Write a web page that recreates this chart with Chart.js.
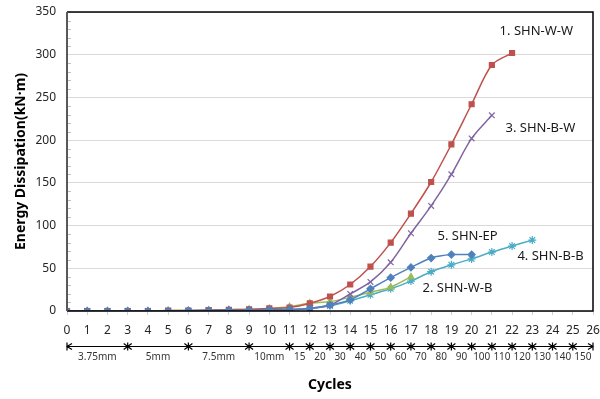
<!DOCTYPE html>
<html>
<head>
<meta charset="utf-8">
<script src="https://cdn.jsdelivr.net/npm/chart.js@4.4.0/dist/chart.umd.min.js"></script>
<style>
    html, body { margin: 0; padding: 0; background: #fff; }
    #wrap { width: 600px; height: 399px; position: relative; }
</style>
</head>
<body>
<div id="wrap"><canvas id="myChart"></canvas></div>
<script>

// values, index = cycle number
var shnWW = [0, 0, 0, 0, 0, 0.5, 0.5, 1, 1.5, 2, 3, 4, 9, 17, 31, 52, 80, 114, 151, 195, 242, 288, 302];
var shnWB = [0, 0, 0, 0, 0, 0.5, 0.5, 1, 1.5, 2, 3, 5, 9, 11, 16, 22, 28, 40];
var shnBW = [0, 0, 0, 0, 0, 0, 0, 0.5, 0.5, 1, 1, 1.5, 3, 7, 20, 34, 57, 91, 123, 160, 202, 229];
var shnBB = [0, 0, 0, 0, 0, 0, 0, 0.5, 0.5, 1, 1, 1.5, 3, 6, 12, 19, 26, 35, 46, 54, 61, 69, 76, 83];
var shnEP = [0, 0, 0, 0, 0, 0, 0.5, 0.5, 1, 1, 1.5, 2, 3, 7, 13, 26, 39, 51, 62, 66, 66];

var seriesNames = ["1. SHN-W-W", "2. SHN-W-B", "3. SHN-B-W", "4. SHN-B-B", "5. SHN-EP"];

// x ticks 0..26, y ticks 0..350
var xTicks = [0, 1, 2, 3, 4, 5, 6, 7, 8, 9, 10, 11, 12, 13, 14, 15, 16, 17, 18, 19, 20, 21, 22, 23, 24, 25, 26];
var yTicks = [0, 50, 100, 150, 200, 250, 300, 350];

// amplitude row under the cycle numbers
var stepBounds = [0, 3, 6, 9, 11, 12, 13, 14, 15, 16, 17, 18, 19, 20, 21, 22, 23, 24, 25, 26];
var stepLabels = ["3.75mm", "5mm", "7.5mm", "10mm", "15", "20", "30", "40", "50", "60", "70", "80", "90", "100", "110", "120", "130", "140", "150"];

// where the series names sit (cycle, value)
var labelX = [23.2, 19.3, 23.4, 23.9, 19.8];
var labelY = [327, 27, 214, 64, 87];

var FONT = "'Noto Sans', 'DejaVu Sans', sans-serif";

function toPoints(arr) {
    return arr.map(function (v, i) { return { x: i, y: v }; });
}

var extras = {
    id: "extras",
    afterDraw: function (chart) {
        var ctx = chart.ctx;
        var xs = chart.scales.x;
        var ys = chart.scales.y;
        var a = chart.chartArea;

        ctx.save();

        // frame
        ctx.strokeStyle = "#000";
        ctx.lineWidth = 1.5;
        ctx.beginPath();
        ctx.moveTo(a.left, a.top);
        ctx.lineTo(a.right, a.top);
        ctx.lineTo(a.right, a.bottom);
        ctx.lineTo(a.left, a.bottom);
        ctx.stroke();
        ctx.strokeStyle = "#595959";
        ctx.lineWidth = 2;
        ctx.beginPath();
        ctx.moveTo(a.left, a.top);
        ctx.lineTo(a.left, a.bottom);
        ctx.stroke();

        // minor ticks on y axis
        ctx.strokeStyle = "#bfbfbf";
        ctx.lineWidth = 1;
        for (var v = 10; v < 350; v += 10) {
            if (v % 50 === 0) continue;
            var py = Math.round(ys.getPixelForValue(v)) + 0.5;
            ctx.beginPath();
            ctx.moveTo(a.left + 1, py);
            ctx.lineTo(a.left + 4, py);
            ctx.stroke();
        }

        // series names
        ctx.fillStyle = "#1a1a1a";
        ctx.font = "13px " + FONT;
        ctx.textAlign = "center";
        ctx.textBaseline = "middle";
        for (var i = 0; i < seriesNames.length; i++) {
            ctx.fillText(seriesNames[i], xs.getPixelForValue(labelX[i]), ys.getPixelForValue(labelY[i]));
        }

        // amplitude row
        var rowY = 346.5;
        var x0 = xs.getPixelForValue(stepBounds[0]);
        var x1 = xs.getPixelForValue(stepBounds[stepBounds.length - 1]);
        ctx.strokeStyle = "#000";
        ctx.lineWidth = 1.2;
        ctx.beginPath();
        ctx.moveTo(x0, rowY);
        ctx.lineTo(x1, rowY);
        ctx.stroke();

        for (var j = 0; j < stepBounds.length; j++) {
            var px = xs.getPixelForValue(stepBounds[j]);
            ctx.beginPath();
            if (j === 0 || j === stepBounds.length - 1) {
                var d = j === 0 ? 1 : -1;
                ctx.moveTo(px, rowY - 4);
                ctx.lineTo(px, rowY + 4);
                ctx.moveTo(px + d * 5, rowY - 3);
                ctx.lineTo(px, rowY);
                ctx.lineTo(px + d * 5, rowY + 3);
            } else {
                ctx.moveTo(px, rowY - 4);
                ctx.lineTo(px, rowY + 4);
                ctx.moveTo(px - 4, rowY - 3);
                ctx.lineTo(px + 4, rowY + 3);
                ctx.moveTo(px - 4, rowY + 3);
                ctx.lineTo(px + 4, rowY - 3);
            }
            ctx.stroke();
        }

        ctx.fillStyle = "#333";
        ctx.font = "10px " + FONT;
        for (var k = 0; k < stepLabels.length; k++) {
            var mid = (stepBounds[k] + stepBounds[k + 1]) / 2;
            ctx.fillText(stepLabels[k], xs.getPixelForValue(mid), 357);
        }

        ctx.restore();
    }
};

function makeSet(name, arr, color, style, radius, order) {
    return {
        label: name,
        data: toPoints(arr),
        borderColor: color,
        backgroundColor: color,
        borderWidth: 1.5,
        pointStyle: style,
        pointRadius: radius,
        pointBorderWidth: 1.2,
        tension: 0.3,
        order: order
    };
}

new Chart("myChart", {
    type: "line",
    data: {
        datasets: [
            makeSet(seriesNames[4], shnEP, "#4F81BD", "rectRot", 3.5, 1),
            makeSet(seriesNames[0], shnWW, "#C0504D", "rect", 3.5, 2),
            makeSet(seriesNames[2], shnBW, "#8064A2", "crossRot", 4, 3),
            makeSet(seriesNames[1], shnWB, "#9BBB59", "triangle", 3.5, 4),
            makeSet(seriesNames[3], shnBB, "#4BACC6", "star", 4, 5)
        ]
    },
    options: {
        responsive: true,
        maintainAspectRatio: false,
        animation: false,
        layout: { padding: { left: 0, right: 0, top: 12, bottom: 0 } },
        plugins: {
            legend: { display: false },
            tooltip: { enabled: false }
        },
        scales: {
            x: {
                type: "linear",
                min: 0,
                max: 26,
                afterBuildTicks: function (s) {
                    s.ticks = xTicks.map(function (v) { return { value: v }; });
                },
                afterFit: function (s) {
                    s.height = 88;
                    s.paddingRight = 7;
                },
                ticks: {
                    autoSkip: false,
                    maxRotation: 0,
                    padding: 8,
                    color: "#262626",
                    font: { family: FONT, size: 12 }
                },
                grid: { drawOnChartArea: false, tickLength: 4, color: "#d0d0d0" },
                border: { display: false },
                title: {
                    display: true,
                    text: "Cycles",
                    color: "#000",
                    font: { family: FONT, size: 14, weight: "bold" },
                    padding: { top: 0, bottom: 6 }
                }
            },
            y: {
                min: 0,
                max: 350,
                afterBuildTicks: function (s) {
                    s.ticks = yTicks.map(function (v) { return { value: v }; });
                },
                afterFit: function (s) {
                    s.width = 67;
                    s.paddingTop = 0;
                },
                ticks: {
                    padding: 11,
                    color: "#262626",
                    font: { family: FONT, size: 12 }
                },
                grid: { color: "#d9d9d9", drawTicks: false },
                border: { display: false },
                title: {
                    display: true,
                    text: "Energy Dissipation(kN·m)",
                    color: "#000",
                    font: { family: FONT, size: 14, weight: "bold" },
                    padding: { top: 13, bottom: 0 }
                }
            }
        }
    },
    plugins: [extras]
});

</script>
</body>
</html>
